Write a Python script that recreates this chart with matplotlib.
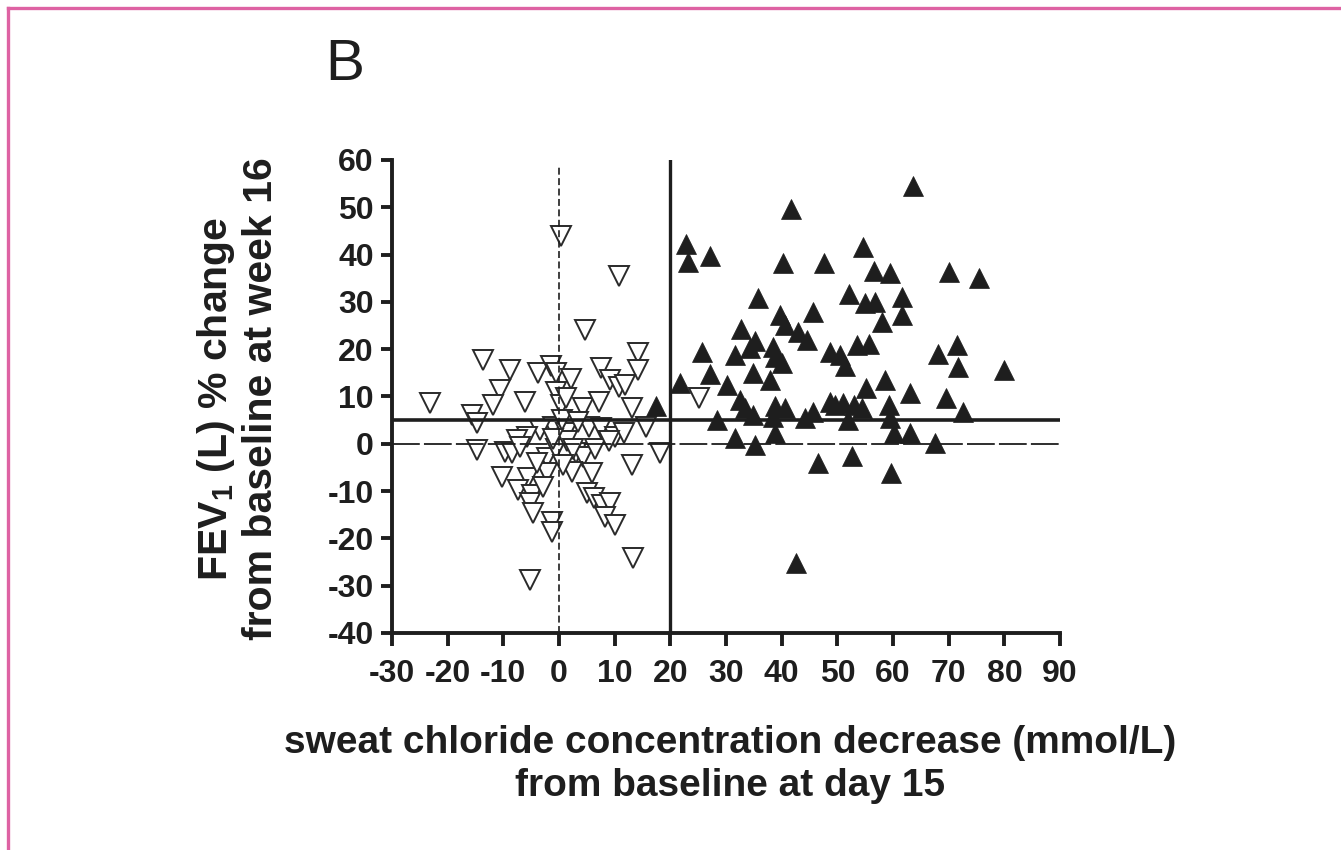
import matplotlib
matplotlib.use("Agg")
import matplotlib.pyplot as plt
from matplotlib.lines import Line2D

# Data
treated_x = [63.5, 41.7, 22.8, 23.2, 27.2, 40.2, 47.6, 54.6, 56.5, 59.5, 70.0, 75.5,
             35.7, 52.1, 55.0, 56.8, 61.6, 61.6, 39.7, 45.7, 40.6, 58.1, 32.7, 43.0,
             44.5, 35.2, 34.3, 38.5, 31.6, 25.6, 38.8, 48.7, 50.5, 53.5, 55.6, 68.1,
             71.4, 71.7, 51.4, 80.0, 40.0, 27.2, 34.8, 21.7, 30.1, 37.9, 58.6, 55.1,
             63.0, 69.5, 32.5, 33.4, 34.9, 28.3, 38.8, 40.6, 38.5, 38.8, 31.6, 35.2,
             44.2, 45.7, 48.7, 49.6, 51.1, 52.0, 52.9, 54.4, 59.2, 59.5, 60.1, 63.0,
             72.6, 67.5, 46.6, 52.6, 59.6, 42.6, 17.5]
treated_y = [54.4, 49.6, 42.2, 38.5, 39.7, 38.2, 38.2, 41.7, 36.6, 36.2, 36.4, 35.1,
             30.9, 31.7, 29.7, 30.0, 31.1, 27.2, 27.2, 27.9, 25.1, 25.7, 24.3, 23.7,
             22.0, 21.8, 20.2, 20.5, 18.8, 19.5, 18.4, 19.5, 18.8, 20.9, 21.2, 19.0,
             20.9, 16.3, 16.4, 15.6, 17.0, 14.8, 14.9, 12.8, 12.4, 13.5, 13.5, 11.7,
             10.7, 9.6, 9.3, 7.5, 6.1, 5.0, 7.9, 7.5, 5.7, 2.2, 1.2, -0.3,
             5.4, 6.8, 8.9, 8.2, 8.6, 5.0, 8.2, 7.5, 8.2, 5.4, 2.2, 2.2,
             6.8, 0.1, -4.0, -2.6, -6.2, -25.1, 8.0]

placebo_x = [0.3, 10.7, 4.7, 14.2, 14.2, -13.6, -8.8, -3.7, -1.5, -0.5, 2.2, 7.6,
             9.2, 10.7, 11.9, -10.6, -11.8, -23.2, -6.1, -0.5, 0.4, 1.3, 4.3, 7.1,
             13.1, -15.7, -14.8, 15.7, 5.3, 7.6, 10.1, 11.6, -1.1, 1.3, -3.4, -5.8,
             -7.6, -14.8, -9.7, -8.5, -7.0, -2.2, 3.1, 4.3, 18.1, 13.1, -10.3, -5.5,
             -2.2, 2.3, 5.9, -7.3, -4.9, -2.8, 5.0, 6.2, 7.7, 9.2, -5.2, -4.6,
             8.3, 10.1, -1.3, -1.3, 13.3, -5.2, 25.2, 0.5, -0.5, 1.5, 2.5, -1.0,
             3.5, -4.0, 0.8, 6.5, 9.0]
placebo_y = [43.9, 35.5, 24.1, 19.1, 15.6, 17.7, 15.6, 14.9, 16.5, 15.0, 13.8, 16.0,
             13.5, 12.1, 12.4, 11.4, 8.2, 8.6, 8.9, 11.0, 8.2, 9.6, 7.5, 8.9,
             7.5, 6.1, 4.3, 3.6, 3.6, 3.3, 1.5, 2.2, 3.6, 2.2, 2.9, 1.5,
             0.8, -1.3, -1.7, -2.0, -0.6, -3.1, -2.0, -2.7, -2.0, -4.5, -7.0, -7.3,
             -6.2, -5.9, -6.2, -9.8, -10.8, -9.1, -10.5, -11.5, -12.9, -12.6, -12.6, -14.7,
             -15.4, -17.2, -16.5, -18.6, -24.2, -28.8, 9.6, 5.0, -1.0, 0.5, -1.0, 1.0,
             4.5, -4.0, -4.5, -1.0, 0.5]

x_ticks = list(range(-30, 91, 10))
y_ticks = list(range(-40, 61, 10))

ink = "#1e1e1e"
plt.rcParams["font.family"] = ["Liberation Sans", "DejaVu Sans"]
plt.rcParams["font.weight"] = "bold"
plt.rcParams["axes.unicode_minus"] = False
plt.rcParams["lines.scale_dashes"] = False

fig = plt.figure(figsize=(13.41, 8.5), dpi=100)
ax = fig.add_axes([0.2923, 0.2553, 0.4982, 0.5565])

ax.plot(placebo_x, placebo_y, linestyle="none", marker="v", markersize=14,
        markerfacecolor="white", markeredgecolor="#2a2a2a", markeredgewidth=1.4,
        zorder=2)
ax.plot(treated_x, treated_y, linestyle="none", marker="^", markersize=15,
        markerfacecolor=ink, markeredgecolor=ink, markeredgewidth=0.5, zorder=3)

# reference lines
ax.axhline(5, color=ink, linewidth=2.6, zorder=4)
ax.axvline(20, color=ink, linewidth=2.4, zorder=4)
ax.plot([-30, 90], [0, 0], color=ink, linewidth=1.3, dashes=(20, 3), zorder=4)
ax.plot([0, 0], [-40, 59], color=ink, linewidth=1.2, dashes=(5, 2.5), zorder=4)

ax.set_xlim(-30, 90)
ax.set_ylim(-40, 60)
ax.set_xticks(x_ticks)
ax.set_yticks(y_ticks)
ax.spines["top"].set_visible(False)
ax.spines["right"].set_visible(False)
for s in ("left", "bottom"):
    ax.spines[s].set_linewidth(2.8)
    ax.spines[s].set_color(ink)
ax.tick_params(axis="x", length=9, width=2.8, pad=10, labelsize=23, colors=ink)
ax.tick_params(axis="y", length=8, width=2.8, pad=5, labelsize=23, colors=ink)

fig.text(0.5444, 0.1006, "sweat chloride concentration decrease (mmol/L)\nfrom baseline at day 15",
         ha="center", va="center", multialignment="center", fontsize=28,
         fontweight="bold", color=ink, linespacing=1.25)
fig.text(0.1770, 0.531, "FEV$_{\\mathregular{1}}$ (L) % change\nfrom baseline at week 16",
         ha="center", va="center", multialignment="center", rotation=90,
         fontsize=29.5, fontweight="bold", color=ink, linespacing=1.15)
fig.text(0.2573, 0.9235, "B", ha="center", va="center", fontsize=42,
         fontweight="normal", color=ink)

# pink frame (top and left edges visible)
x0 = 8 / 1341
y0 = 1 - 8 / 850
fig.add_artist(Line2D([x0, 1.0], [y0, y0], transform=fig.transFigure,
                      color="#de62a3", linewidth=2.4))
fig.add_artist(Line2D([x0, x0], [0.0, y0], transform=fig.transFigure,
                      color="#de62a3", linewidth=2.4))

fig.savefig("out.png", dpi=100)
